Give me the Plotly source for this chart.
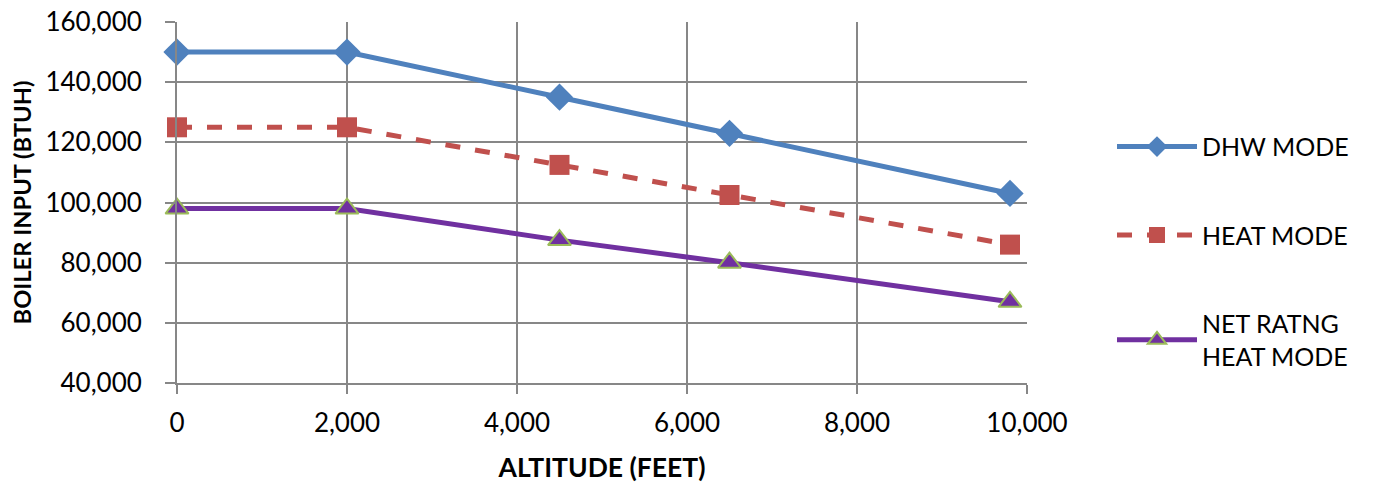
import plotly.graph_objects as go

# altitude (feet) and boiler input (BTUH)
altitude = [0, 2000, 4500, 6500, 9800]
dhw_mode = [150000, 150000, 135000, 123000, 103000]
heat_mode = [125000, 125000, 112500, 102500, 86000]
net_rating = [98000, 98000, 87500, 80000, 67000]

x_ticks = [0, 2000, 4000, 6000, 8000, 10000]
y_ticks = [40000, 60000, 80000, 100000, 120000, 140000, 160000]

series_names = ["DHW MODE", "HEAT MODE", "NET RATNG<br>HEAT MODE"]

FONT = "Lato, Carlito, 'Open Sans', sans-serif"

fig = go.Figure()
fig.add_trace(go.Scatter(
    x=altitude, y=dhw_mode, name=series_names[0], legendgroup="a",
    mode="lines+markers", cliponaxis=False,
    line=dict(color="#4F81BD", width=5),
    marker=dict(symbol="diamond", size=21, color="#4F81BD"),
))
fig.add_trace(go.Scatter(
    x=altitude, y=heat_mode, name=series_names[1], legendgroup="b",
    mode="lines+markers", cliponaxis=False,
    line=dict(color="#C0504D", width=5, dash="dash"),
    marker=dict(symbol="square", size=20, color="#C0504D"),
))
fig.add_trace(go.Scatter(
    x=altitude, y=net_rating, name=series_names[2], legendgroup="c",
    mode="lines+markers", cliponaxis=False,
    line=dict(color="#7030A0", width=5),
    marker=dict(symbol="triangle-up", size=20, color="#7030A0",
                line=dict(color="#9BBB59", width=2)),
))

# page body adds 8px offset, so margins are shifted accordingly
fig.update_layout(
    width=1375, height=485,
    margin=dict(l=169, r=356, t=14, b=110, autoexpand=False),
    plot_bgcolor="white", paper_bgcolor="white",
    font=dict(family=FONT, size=26, color="black"),
    legend=dict(
        x=1.1, y=0.718, xanchor="left", yanchor="top",
        font=dict(size=25), tracegroupgap=53, itemwidth=80,
        bgcolor="rgba(0,0,0,0)",
    ),
    xaxis=dict(
        range=[0, 10000], tickmode="array", tickvals=x_ticks,
        tickformat=",d", showgrid=True, gridcolor="#878787", gridwidth=1.5,
        showline=True, linecolor="#878787", linewidth=2,
        ticks="outside", ticklen=9, tickcolor="#878787", tickwidth=2,
        ticklabelstandoff=7, ticklabeloverflow="allow",
        zeroline=False, automargin=False,
        title=dict(text="<b>ALTITUDE (FEET)</b>", font=dict(size=26.5), standoff=21),
    ),
    yaxis=dict(
        range=[40000, 160000], tickmode="array", tickvals=y_ticks,
        tickformat=",d", ticklabeloverflow="allow",
        tickfont=dict(size=26), ticklabelstandoff=18,
        showgrid=True, gridcolor="#878787", gridwidth=1.5,
        showline=True, linecolor="#878787", linewidth=2,
        ticks="outside", ticklen=10, tickcolor="#878787", tickwidth=2,
        zeroline=False, automargin=False,
        title=dict(text="<b>BOILER INPUT (BTUH)</b>", font=dict(size=23.7), standoff=12),
    ),
)

fig.write_html("out.html")
